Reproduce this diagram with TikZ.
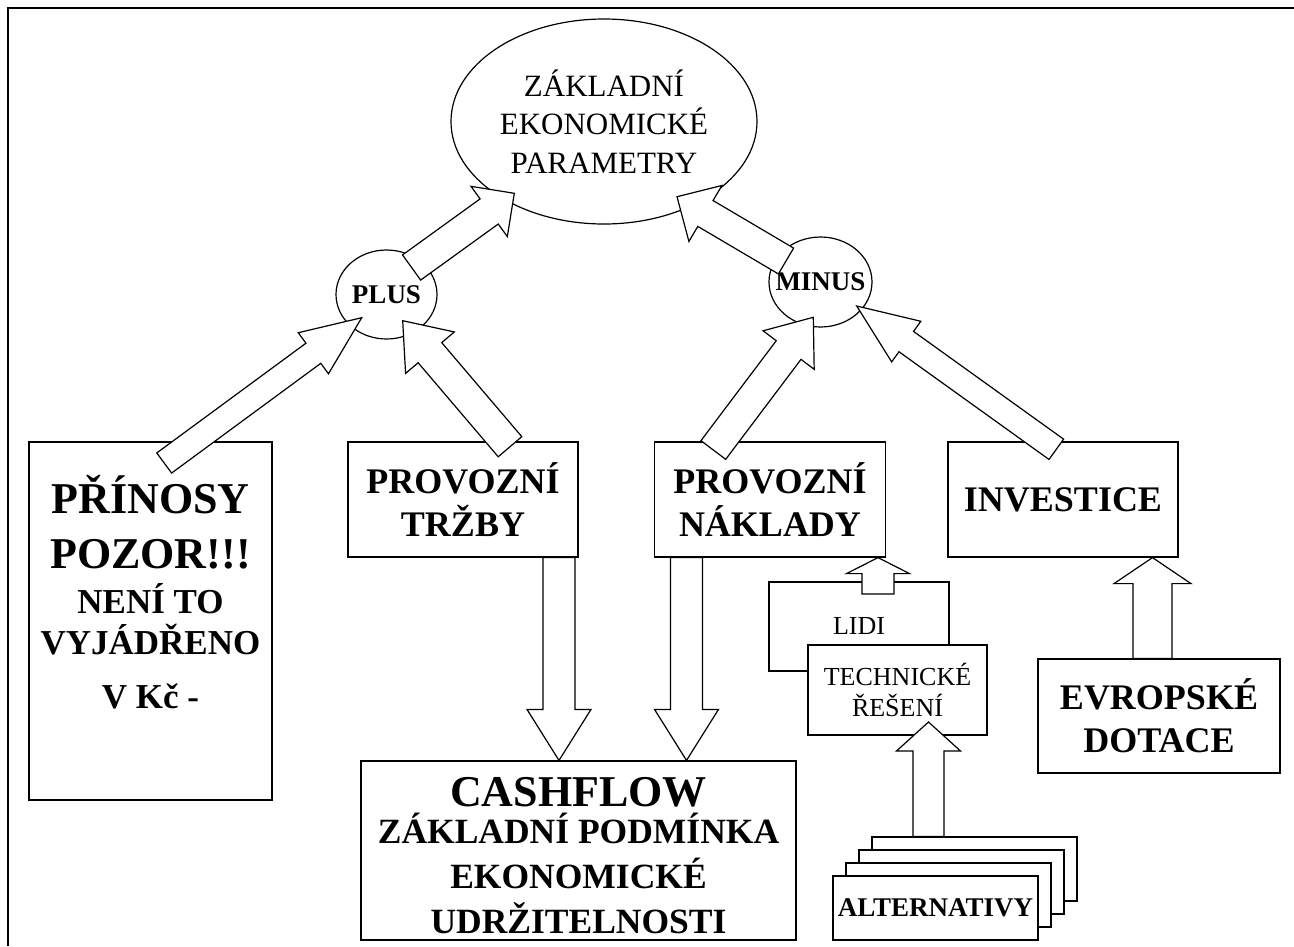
\documentclass[tikz,border=0pt]{standalone}
\usepackage{fontspec}
\setmainfont{Liberation Serif}
\usetikzlibrary{shapes.geometric,calc}

% block arrow: tail, tip, shaft width, head width, head length
\newcommand{\blockarrow}[5]{%
  \coordinate (hb) at ($(#2)!#5!(#1)$);
  \draw[barrow] ($(#1)!0.5*#3!90:(#2)$) -- ($(hb)!0.5*#3!-90:(#1)$)
    -- ($(hb)!0.5*#4!-90:(#1)$) -- (#2) -- ($(hb)!0.5*#4!90:(#1)$)
    -- ($(hb)!0.5*#3!90:(#1)$) -- ($(#1)!0.5*#3!-90:(#2)$) -- cycle;}

\begin{document}
\begin{tikzpicture}[x=1pt,y=-1pt,
    box/.style={draw,line width=1.2pt,fill=white,inner sep=0pt,align=center},
    oval/.style={ellipse,draw,line width=1.2pt,fill=white,inner sep=0pt,align=center},
    barrow/.style={draw,line width=1.2pt,fill=white,line join=miter}]
    \useasboundingbox (0,0) rectangle (1294,946);
    \draw[line width=2.4pt] (8,946) -- (8,8) -- (1294,8);

    \node [oval,minimum width=306pt,minimum height=205pt,font=\fontsize{31}{38.5}\selectfont] (param) at (604,121.5) {ZÁKLADNÍ\\EKONOMICKÉ\\PARAMETRY};
    \node [oval,minimum width=101pt,minimum height=89pt,font=\fontsize{27}{27}\selectfont\bfseries] (plus) at (386.5,294.5) {PLUS};
    \node [oval,minimum width=103pt,minimum height=90pt,font=\fontsize{27}{27}\selectfont\bfseries] (minus) at (820.5,282) {\makebox[0pt]{MINUS}};

    \node [box,minimum width=243pt,minimum height=358pt] (prinosy) at (150.5,621) {};
    \node [align=center,inner sep=0pt,font=\fontsize{35}{41}\selectfont\bfseries] (prinosyText) at (150.5,592) {{\fontsize{44}{44}\selectfont PŘÍNOSY}\\[14pt]{\fontsize{44}{44}\selectfont POZOR!!!}\\[4pt]NENÍ TO\\VYJÁDŘENO\\[13pt]V Kč -};
    \node [box,minimum width=230pt,minimum height=115pt,font=\fontsize{36}{43}\selectfont\bfseries] (trzby) at (463,499.5) {PROVOZNÍ\\TRŽBY};
    \node [box,minimum width=231pt,minimum height=115pt,font=\fontsize{36}{43}\selectfont\bfseries] (naklady) at (770,499.5) {PROVOZNÍ\\NÁKLADY};
    \node [box,minimum width=230pt,minimum height=115pt,font=\fontsize{36}{43}\selectfont\bfseries] (investice) at (1063,499.5) {INVESTICE};
    \node [box,minimum width=242pt,minimum height=114pt,font=\fontsize{36}{43}\selectfont\bfseries] (dotace) at (1159,716) {EVROPSKÉ\\DOTACE};
    \node [box,minimum width=435pt,minimum height=179pt,font=\fontsize{35.5}{45}\selectfont\bfseries] (cashflow) at (578.5,850.5) {{\fontsize{44}{44}\selectfont\rule{0pt}{40pt}CASHFLOW}\\[-8pt]ZÁKLADNÍ PODMÍNKA\\EKONOMICKÉ\\UDRŽITELNOSTI};

    \node [box,minimum width=180pt,minimum height=89pt,font=\fontsize{26}{31}\selectfont] (lidi) at (859,626.5) {LIDI};
    \node [box,minimum width=179pt,minimum height=90pt,font=\fontsize{26}{31}\selectfont] (technicke) at (897.5,690) {TECHNICKÉ\\ŘEŠENÍ};

    \foreach \k in {3,2,1}
        \node [box,minimum width=205pt,minimum height=64pt] (alt\k) at ({935.5+13*\k},{908-13*\k}) {};
    \node [box,minimum width=205pt,minimum height=64pt,font=\fontsize{27}{30}\selectfont\bfseries] (alt) at (935.5,908) {ALTERNATIVY};

    % arrow ends
    \coordinate (prinosyOut) at (164.2,463);
    \coordinate (plusInL) at (361.7,317.7);
    \coordinate (trzbyOut) at (510,446.7);
    \coordinate (plusInR) at (402.7,320.7);
    \coordinate (nakladyOut) at (713.3,450);
    \coordinate (minusInL) at (813.3,317.3);
    \coordinate (investiceOut) at (1056.3,449.3);
    \coordinate (minusInR) at (856.7,306);
    \coordinate (plusOut) at (411.6,267.5);
    \coordinate (paramInL) at (514.3,193.3);
    \coordinate (minusOut) at (786,261);
    \coordinate (paramInR) at (677,196.7);

    \blockarrow{prinosyOut}{plusInL}{25pt}{51pt}{60pt}
    \blockarrow{trzbyOut}{plusInR}{31pt}{64pt}{42pt}
    \blockarrow{nakladyOut}{minusInL}{31pt}{64pt}{41pt}
    \blockarrow{investiceOut}{minusInR}{25pt}{50pt}{61pt}
    \blockarrow{plusOut}{paramInL}{31pt}{62pt}{31pt}
    \blockarrow{minusOut}{paramInR}{30pt}{65pt}{33pt}

    \blockarrow{trzby.south -| 559,0}{cashflow.north -| 559,0}{32pt}{64pt}{51pt}
    \blockarrow{naklady.south -| 686.5,0}{cashflow.north -| 686.5,0}{32pt}{64pt}{51pt}
    \blockarrow{878,594}{naklady.south -| 878,0}{32pt}{63pt}{16pt}
    \blockarrow{alt3.north -| 928.5,0}{928.5,722}{31pt}{64pt}{29pt}
    \blockarrow{dotace.north -| 1152.5,0}{investice.south -| 1152.5,0}{39pt}{77pt}{26pt}
    \end{tikzpicture}
\end{document}
